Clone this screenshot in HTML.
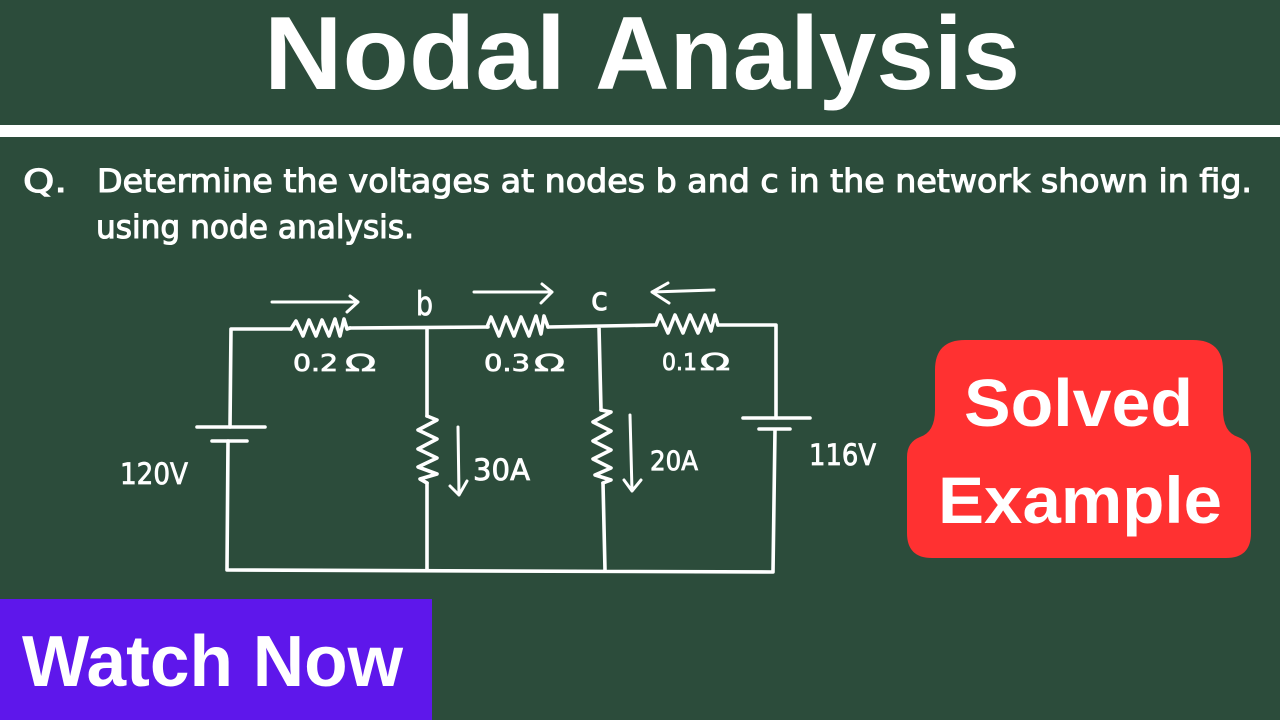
<!DOCTYPE html>
<html lang="en">
<head>
<meta charset="utf-8">
<title>Nodal Analysis</title>
<style>
html,body{margin:0;padding:0;width:1280px;height:720px;overflow:hidden;background:#2c4c3b}
svg{display:block}
.b{font-family:"Liberation Sans",sans-serif;font-weight:700;fill:#fff}
.q{font-family:"DejaVu Sans","Liberation Sans",sans-serif;font-size:32px;fill:#fff;stroke:#fff;stroke-width:1.1px}
.h{font-family:"DejaVu Sans","Liberation Sans",sans-serif;font-size:23px;fill:#fff;stroke:#fff;stroke-width:.8px}
.w{fill:none;stroke:#fff;stroke-width:3.6;stroke-linecap:round;stroke-linejoin:round}
.t{fill:none;stroke:#fff;stroke-width:3;stroke-linecap:round;stroke-linejoin:round}
</style>
</head>
<body>
<svg width="1280" height="720" viewBox="0 0 1280 720" xmlns="http://www.w3.org/2000/svg">
<rect width="1280" height="720" fill="#2c4c3b"/>
<text class="b" x="264" y="89" font-size="104" textLength="302" lengthAdjust="spacingAndGlyphs">Nodal</text>
<text class="b" x="595" y="89" font-size="104" textLength="425" lengthAdjust="spacingAndGlyphs">Analysis</text>
<rect x="0" y="125" width="1280" height="12" fill="#fff"/>

<text class="q" x="23" y="192" textLength="44" lengthAdjust="spacingAndGlyphs">Q.</text>
<text class="q" x="97" y="192" textLength="1155" lengthAdjust="spacingAndGlyphs">Determine the voltages at nodes b and c in the network shown in fig.</text>
<text class="q" x="96" y="238" textLength="318" lengthAdjust="spacingAndGlyphs">using node analysis.</text>

<!-- wires -->
<path class="w" d="M291 329H231L230 427M228 441L227 570L773 572L775 430M776 418V325H718M656 325L548 327M488 327L350 328M427 328V416M427 483V570M599 327L601 410M603 483L605 570"/>
<!-- batteries -->
<path class="w" d="M197 427H265M212 441H247M743 418H810M759 429H790"/>
<!-- resistors -->
<path class="w" d="M291 329L296 321L303 336L309 320L316 336L322 320L329 336L335 319L340 336L344 319L347 329L350 328"/>
<path class="w" d="M487 327L491 317L499 336L506 317L514 336L521 317L529 336L536 316L541 334L544 316L548 327"/>
<path class="w" d="M656 325L660 315L668 333L675 315L683 333L690 315L698 333L705 315L711 331L715 315L718 325"/>
<path class="w" d="M427 416L437 420L418 430L437 439L418 449L437 458L418 467L437 474L420 479L427 483"/>
<path class="w" d="M601 410L611 412L593 422L611 431L593 441L611 450L593 459L611 468L595 475L611 480L603 483"/>
<!-- arrows -->
<path class="t" d="M272 302H358M350 296L358 302L347 312"/>
<path class="t" d="M474 292H552M542 284L552 292L541 303"/>
<path class="t" d="M714 290L652 292M668 283L652 292L669 303"/>
<path class="t" d="M458 427L459 495M450 486L459 495L467 481"/>
<path class="t" d="M630 415L632 491M624 480L632 491L641 480"/>

<!-- labels -->
<text class="h" x="416" y="315" style="font-size:33px" textLength="17" lengthAdjust="spacingAndGlyphs">b</text>
<text class="h" x="591" y="310" style="font-size:32px" textLength="17" lengthAdjust="spacingAndGlyphs">c</text>
<text class="h" x="293" y="371" textLength="45" lengthAdjust="spacingAndGlyphs">0.2</text>
<text class="h" x="345" y="371" textLength="31" lengthAdjust="spacingAndGlyphs">Ω</text>
<text class="h" x="484" y="371" textLength="46" lengthAdjust="spacingAndGlyphs">0.3</text>
<text class="h" x="534" y="371" textLength="31" lengthAdjust="spacingAndGlyphs">Ω</text>
<text class="h" x="662" y="370" textLength="35" lengthAdjust="spacingAndGlyphs">0.1</text>
<text class="h" x="700" y="370" textLength="30" lengthAdjust="spacingAndGlyphs">Ω</text>
<text class="h" x="120" y="484" style="font-size:29px" textLength="68" lengthAdjust="spacingAndGlyphs">120V</text>
<text class="h" x="809" y="465" style="font-size:29px" textLength="67" lengthAdjust="spacingAndGlyphs">116V</text>
<text class="h" x="473" y="480" style="font-size:29px" textLength="57" lengthAdjust="spacingAndGlyphs">30A</text>
<text class="h" x="650" y="470" style="font-size:27px" textLength="48" lengthAdjust="spacingAndGlyphs">20A</text>

<!-- red badge -->
<path fill="#ff3131" d="M965 340H1193Q1223 340 1223 370V410Q1223 432 1238 437Q1251 442 1251 457V533Q1251 558 1226 558H932Q907 558 907 533V457Q907 442 920 437Q935 432 935 410V370Q935 340 965 340Z"/>
<text class="b" x="964" y="426" font-size="67" textLength="229" lengthAdjust="spacingAndGlyphs">Solved</text>
<text class="b" x="938" y="523" font-size="66" textLength="284" lengthAdjust="spacingAndGlyphs">Example</text>

<!-- purple badge -->
<rect x="0" y="599" width="432" height="121" fill="#5e17eb"/>
<text class="b" x="22" y="686" font-size="72" textLength="381" lengthAdjust="spacingAndGlyphs">Watch Now</text>
</svg>
</body>
</html>
